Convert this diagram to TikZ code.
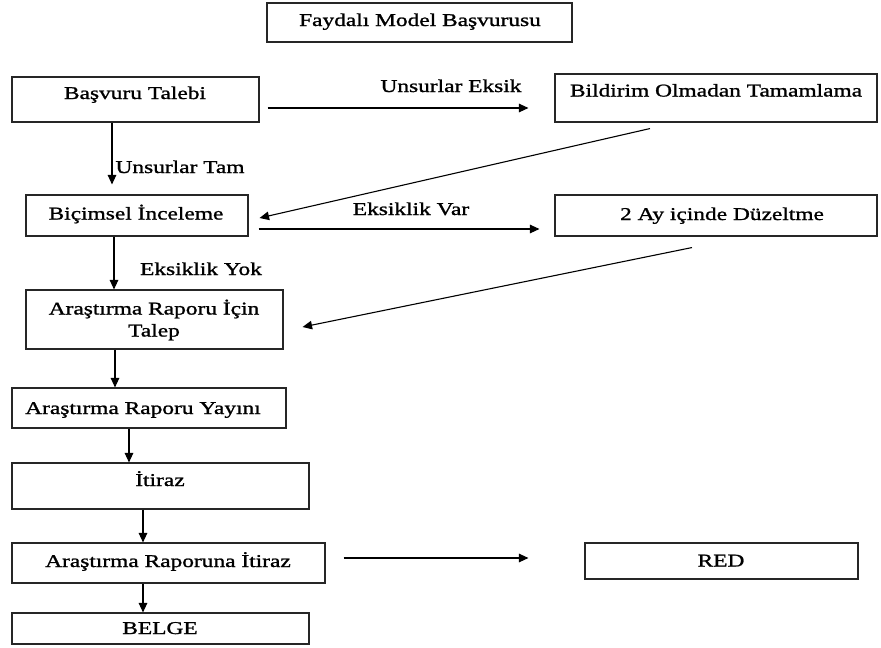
\documentclass[tikz,border=0pt]{standalone}
\usepackage{fontspec}
\setmainfont{Liberation Serif}[FakeStretch=1.3,FakeBold=1.2]
\usetikzlibrary{arrows.meta}
\begin{document}
\begin{tikzpicture}[x=1pt,y=-1pt,
  box/.style={draw=black!85,line width=1.1pt,rectangle,inner sep=0pt},
  txt/.style={inner sep=0pt,anchor=base,font=\fontsize{18}{22}\selectfont},
  lbl/.style={inner sep=0pt,anchor=base,font=\fontsize{18}{22}\selectfont},
  flow/.style={line width=1.1pt,-{Triangle[length=9.5pt,width=8.5pt]}}]
\useasboundingbox (0,0) rectangle (881,648);

% boxes
\node[box,minimum width=305pt,minimum height=39pt] (title) at (419.5,22.5) {};
\node[box,minimum width=247pt,minimum height=45pt] (bt) at (135.5,99.5) {};
\node[box,minimum width=322pt,minimum height=48pt] (bil) at (716,98) {};
\node[box,minimum width=222pt,minimum height=41pt] (bic) at (137,215.5) {};
\node[box,minimum width=322pt,minimum height=41pt] (duz) at (716,215.5) {};
\node[box,minimum width=257pt,minimum height=59pt] (tal) at (154.5,319.5) {};
\node[box,minimum width=274pt,minimum height=40pt] (yay) at (149,408) {};
\node[box,minimum width=297pt,minimum height=46pt] (iti) at (160.5,486) {};
\node[box,minimum width=313pt,minimum height=40pt] (ari) at (168.5,563) {};
\node[box,minimum width=297pt,minimum height=31pt] (belge) at (160.5,628.5) {};
\node[box,minimum width=273pt,minimum height=36pt] (red) at (721.5,561) {};

% box texts
\node[txt] (title-t) at (420,26) {Faydalı Model Başvurusu};
\node[txt] (bt-t) at (135,99) {Başvuru Talebi};
\node[txt] (bil-t) at (716,96.5) {Bildirim Olmadan Tamamlama};
\node[txt] (bic-t) at (136,219.5) {Biçimsel İnceleme};
\node[txt] (duz-t) at (722,220) {2 Ay içinde Düzeltme};
\node[txt,anchor=center,align=center] (tal-t) at (154,320) {Araştırma Raporu İçin\\Talep};
\node[txt] (yay-t) at (143,414) {Araştırma Raporu Yayını};
\node[txt] (iti-t) at (160,486) {İtiraz};
\node[txt] (ari-t) at (168,567) {Araştırma Raporuna İtiraz};
\node[txt] (belge-t) at (160,634) {BELGE};
\node[txt] (red-t) at (721,566.5) {RED};

% connector labels
\node[lbl] (l1) at (451,92) {Unsurlar Eksik};
\node[lbl] (l2) at (180,173) {Unsurlar Tam};
\node[lbl] (l3) at (411,215) {Eksiklik Var};
\node[lbl] (l4) at (201,275) {Eksiklik Yok};

% connectors
\draw[flow] ([xshift=8pt,yshift=-8.5pt]bt.east) -- ([xshift=-26pt,yshift=-10pt]bil.west);
\draw[flow] ([xshift=-23.5pt]bt.south) -- ([xshift=-25pt,yshift=10pt]bic.north);
\draw[flow] ([xshift=-66pt,yshift=-6pt]bil.south) -- ([xshift=11pt,yshift=-2.5pt]bic.east);
\draw[flow] ([xshift=10pt,yshift=-13.5pt]bic.east) -- ([xshift=-15pt,yshift=-13.5pt]duz.west);
\draw[flow] ([xshift=-23pt]bic.south) -- ([xshift=-23pt]bic.south |- tal.north);
\draw[flow] ([xshift=-24pt,yshift=-11pt]duz.south) -- ([xshift=19pt,yshift=-7.5pt]tal.east);
\draw[flow] ([xshift=-39.5pt]tal.south) -- ([xshift=-39.5pt]tal.south |- yay.north);
\draw[flow] ([xshift=-20pt]yay.south) -- ([xshift=-20pt]yay.south |- iti.north);
\draw[flow] ([xshift=-17.5pt]iti.south) -- ([xshift=-17.5pt]iti.south |- ari.north);
\draw[flow] ([xshift=18pt,yshift=5pt]ari.east) -- ([xshift=-56pt,yshift=3pt]red.west);
\draw[flow] ([xshift=-25.5pt]ari.south) -- ([xshift=-25.5pt]ari.south |- belge.north);
\end{tikzpicture}
\end{document}
